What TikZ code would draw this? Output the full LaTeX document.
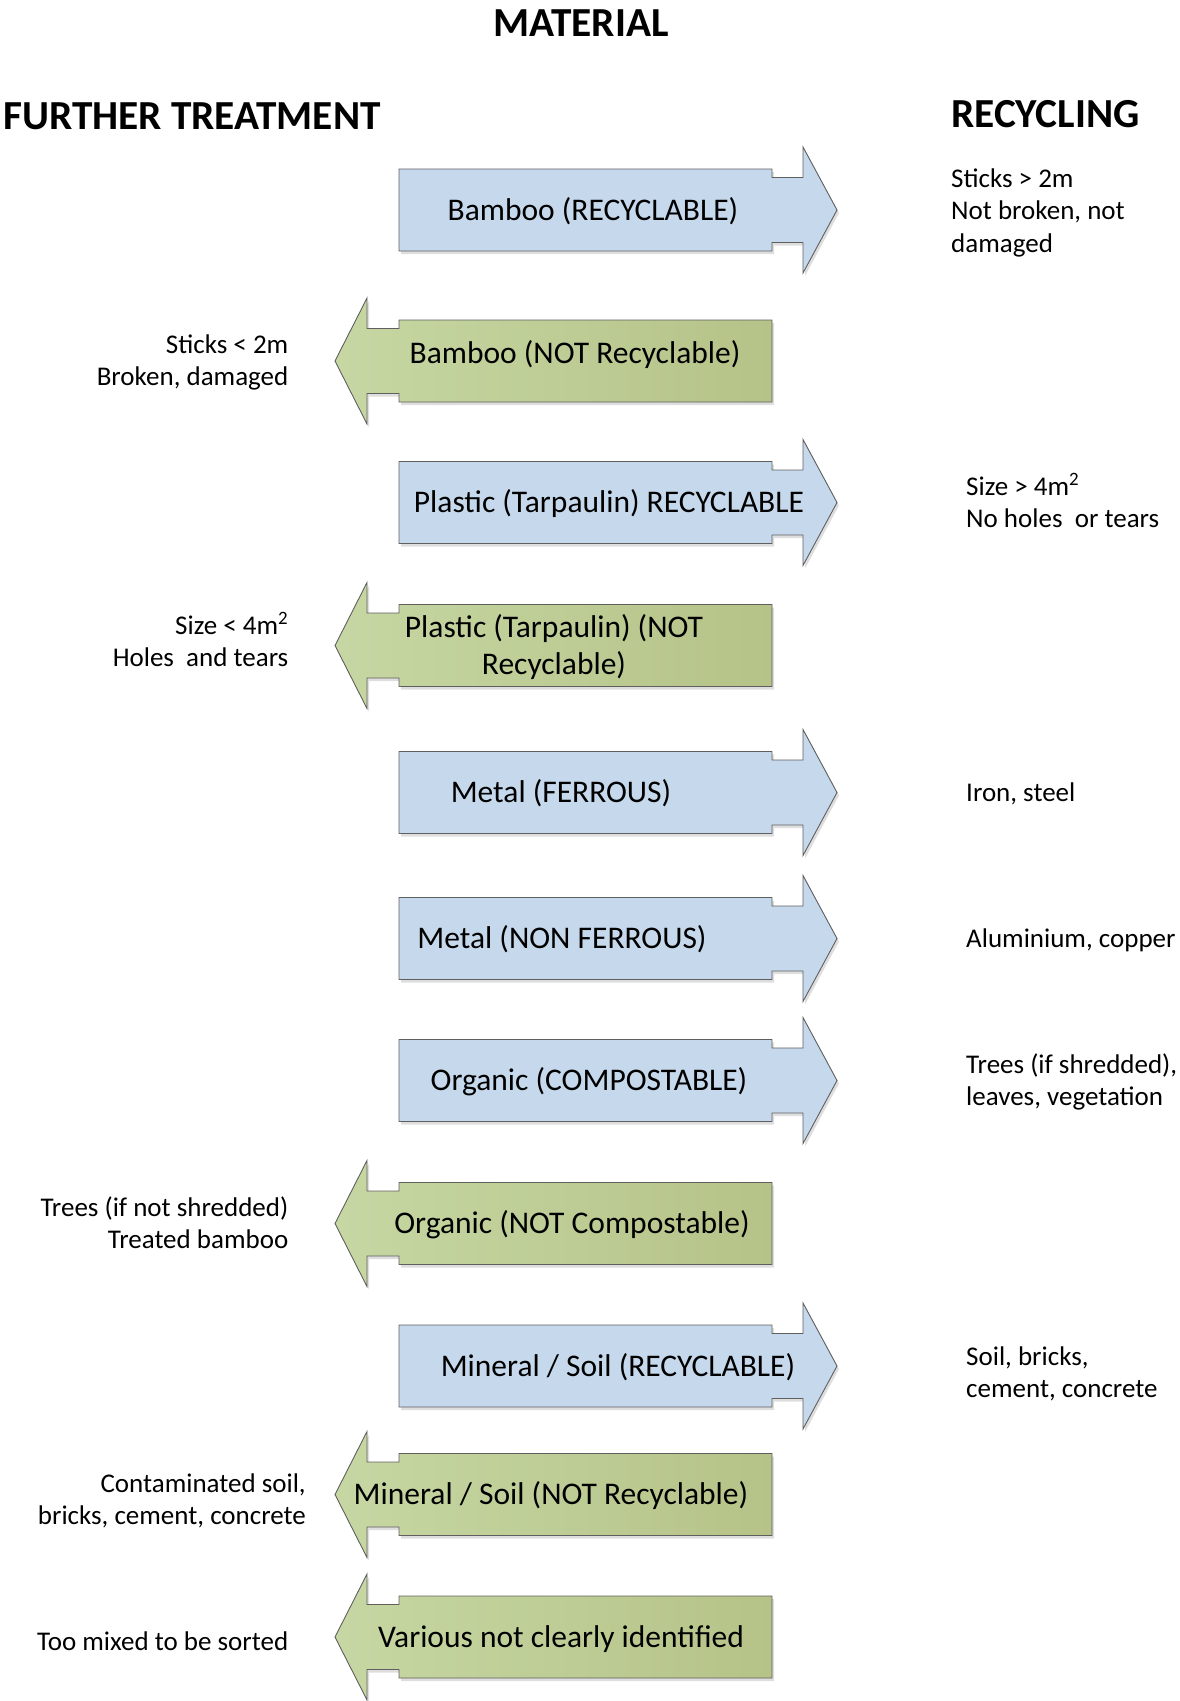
\documentclass[tikz,border=0pt]{standalone}
\usepackage{fontspec}
\setmainfont{Carlito}
\definecolor{recblue}{RGB}{198,217,236}
\definecolor{greenL}{RGB}{199,215,163}
\definecolor{greenR}{RGB}{181,195,136}
\definecolor{edgegray}{RGB}{95,95,95}

% arrow outlines, #1 = vertical centre of the row
\newcommand{\rightArrowPath}[1]{(399,#1-41) -- (772,#1-41) -- (772,#1-32.5) -- (803,#1-32.5) -- (803,#1-63) -- (837,#1) -- (803,#1+63) -- (803,#1+32.5) -- (772,#1+32.5) -- (772,#1+41) -- (399,#1+41) -- cycle}
\newcommand{\leftArrowPath}[1]{(772,#1-41) -- (399,#1-41) -- (399,#1-32.5) -- (367,#1-32.5) -- (367,#1-63) -- (335,#1) -- (367,#1+63) -- (367,#1+32.5) -- (399,#1+32.5) -- (399,#1+41) -- (772,#1+41) -- cycle}
\newcommand{\recArrow}[1]{%
  \fill[arrowshadow] \rightArrowPath{#1};
  \draw[recshape] \rightArrowPath{#1};}
\newcommand{\treatArrow}[1]{%
  \fill[arrowshadow] \leftArrowPath{#1};
  \draw[treatshape] \leftArrowPath{#1};}

\begin{document}
\begin{tikzpicture}[x=1pt,y=-1pt,
  arrowshadow/.style={black!13,xshift=2pt,yshift=-3pt},
  recshape/.style={draw=edgegray,line width=0.9pt,fill=recblue,line join=miter},
  treatshape/.style={draw=edgegray,line width=0.9pt,left color=greenL,right color=greenR,line join=miter},
  heading/.style={inner sep=0pt,font=\fontsize{41.3}{49}\selectfont\bfseries},
  arrowtext/.style={inner sep=0pt,anchor=base,align=center,font=\fontsize{31.5}{37}\selectfont},
  noteR/.style={inner sep=0pt,anchor=base west,align=left,font=\fontsize{27}{32.5}\selectfont},
  noteL/.style={inner sep=0pt,anchor=base east,align=right,font=\fontsize{27}{32.5}\selectfont}]
\useasboundingbox (0,0) rectangle (1179,1701);

% headings
\node[heading,anchor=base] (material) at (581,36) {MATERIAL};
\node[heading,anchor=base west] (treatment) at (3,129) {FURTHER TREATMENT};
\node[heading,anchor=base west] (recycling) at (951,127) {RECYCLING};

% arrows towards recycling (right) and further treatment (left)
\recArrow{210}
\treatArrow{361}
\recArrow{502.5}
\treatArrow{645.5}
\recArrow{792.5}
\recArrow{938.5}
\recArrow{1080.5}
\treatArrow{1223.5}
\recArrow{1366}
\treatArrow{1494.5}
\treatArrow{1637}

% arrow labels (base = baseline of the last line)
\node[arrowtext] (bambooR) at (593,220) {Bamboo (RECYCLABLE)};
\node[arrowtext] (bambooN) at (575,363.5) {Bamboo (NOT Recyclable)};
\node[arrowtext] (plasticR) at (609,512.5) {Plastic (Tarpaulin) RECYCLABLE};
\node[arrowtext] (plasticN) at (554,674) {Plastic (Tarpaulin) (NOT\\Recyclable)};
\node[arrowtext] (metalF) at (561,802.5) {Metal (FERROUS)};
\node[arrowtext] (metalNF) at (562,948.5) {Metal (NON FERROUS)};
\node[arrowtext] (organicC) at (589,1090.5) {Organic (COMPOSTABLE)};
\node[arrowtext] (organicN) at (572,1233.5) {Organic (NOT Compostable)};
\node[arrowtext] (mineralR) at (618,1376) {Mineral / Soil (RECYCLABLE)};
\node[arrowtext] (mineralN) at (551,1504.5) {Mineral / Soil (NOT Recyclable)};
\node[arrowtext] (various) at (561,1647) {Various not clearly identified};

% recycling criteria
\node[noteR] (critBambooR) at (951,252) {Sticks > 2m\\Not broken, not\\damaged};
\node[noteR] (critPlasticR) at (966,527.5) {Size > 4m\textsuperscript{2}\\No holes\ \ or tears};
\node[noteR] (critMetalF) at (966,801) {Iron, steel};
\node[noteR] (critMetalNF) at (966,947) {Aluminium, copper};
\node[noteR] (critOrganicC) at (966,1105.5) {Trees (if shredded),\\leaves, vegetation};
\node[noteR] (critMineralR) at (966,1397.5) {Soil, bricks,\\cement, concrete};

% further treatment criteria
\node[noteL] (critBambooN) at (288.5,385.5) {Sticks < 2m\\Broken, damaged};
\node[noteL] (critPlasticN) at (288.5,666.5) {Size < 4m\textsuperscript{2}\\Holes\ \ and tears};
\node[noteL] (critOrganicN) at (288.5,1248.5) {Trees (if not shredded)\\Treated bamboo};
\node[noteL] (critMineralN) at (306,1524.5) {Contaminated soil,\\bricks, cement, concrete};
\node[noteL] (critVarious) at (288.5,1650) {Too mixed to be sorted};
\end{tikzpicture}
\end{document}
